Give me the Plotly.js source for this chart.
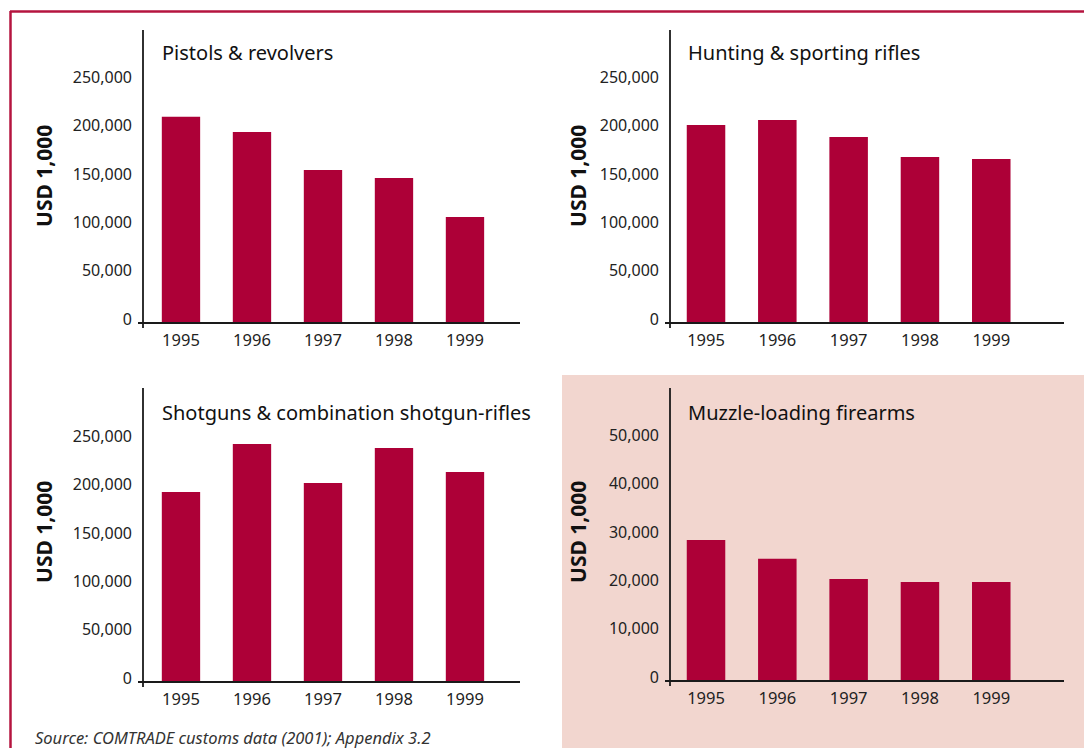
<!DOCTYPE html>
<html><head><meta charset="utf-8">
<script src="https://cdn.plot.ly/plotly-3.0.1.min.js"></script>
<style>html,body{margin:0;padding:0;background:#fff}#chart{width:1084px;height:748px}</style>
</head><body><div id="chart"></div><script>
const years = ['1995','1996','1997','1998','1999'];
const pistols = [213600,197700,158400,150100,109700];
const hunting = [205000,210100,192500,171800,169800];
const shotguns = [196700,246400,206000,242200,217400];
const muzzle = [29200,25300,21100,20500,20500];
const panelTitles = ['Pistols & revolvers','Hunting & sporting rifles','Shotguns & combination shotgun-rifles','Muzzle-loading firearms'];
const bigTicks = [0,50000,100000,150000,200000,250000];
const smallTicks = [0,10000,20000,30000,40000,50000];
const yTitle = 'USD 1,000';
const sourceText = 'Source: COMTRADE customs data (2001); Appendix 3.2';

const W = 1084, H = 748;
const px = x => x / W, py = y => 1 - y / H;
const FONT = 'Noto Sans, sans-serif';
const BAR = '#ad0037';
const INK = '#1a1a1a';

const panels = [
  {x0:143, x1:520, y0:30, y1:323, xr:[-0.535,4.775], yr:[0,303300], data:pistols, ticks:bigTicks, tx:160, ty:53, ytx:44, yty:176},
  {x0:670, x1:1064, y0:30, y1:323, xr:[-0.505,5.02], yr:[0,303300], data:hunting, ticks:bigTicks, tx:686, ty:53, ytx:578, yty:176},
  {x0:143, x1:520, y0:388, y1:682, xr:[-0.535,4.775], yr:[0,304300], data:shotguns, ticks:bigTicks, tx:160, ty:412, ytx:44, yty:532},
  {x0:670, x1:1064, y0:388, y1:681, xr:[-0.505,5.02], yr:[0,60660], data:muzzle, ticks:smallTicks, tx:686, ty:412, ytx:578, yty:532}
];

const traces = [], shapes = [], annotations = [];
const layout = {
  width: W, height: H,
  margin: {l:0, r:0, t:0, b:0},
  paper_bgcolor: '#ffffff',
  plot_bgcolor: 'rgba(0,0,0,0)',
  showlegend: false,
  bargap: 0.46,
  font: {family: FONT, color: INK}
};

shapes.push({type:'rect', xref:'paper', yref:'paper', x0:px(562), x1:1, y0:0, y1:py(375),
  fillcolor:'#f2d6cf', line:{width:0}, layer:'below'});
shapes.push({type:'line', xref:'paper', yref:'paper', x0:px(10), x1:1, y0:py(11.5), y1:py(11.5), line:{color:'#b5143f', width:2.5}});
shapes.push({type:'line', xref:'paper', yref:'paper', x0:px(10.5), x1:px(10.5), y0:py(11), y1:0, line:{color:'#b5143f', width:2.5}});

panels.forEach((p, i) => {
  const n = i === 0 ? '' : String(i + 1);
  const xa = 'x' + n, ya = 'y' + n;
  traces.push({type:'bar', x:years, y:p.data, xaxis:xa, yaxis:ya, marker:{color:BAR, line:{width:0}}, hoverinfo:'skip'});
  layout['xaxis' + n] = {
    domain:[px(p.x0), px(p.x1)], range:p.xr, type:'category', anchor:ya,
    showgrid:false, zeroline:false, showline:false, ticks:'',
    tickfont:{family:FONT, size:16.5, color:'#222'}, ticklabelstandoff:5, fixedrange:true
  };
  layout['yaxis' + n] = {
    domain:[py(p.y1), py(p.y0)], range:p.yr, anchor:xa,
    tickvals:p.ticks, tickformat:',d', showgrid:false, zeroline:false, showline:false, ticks:'',
    tickfont:{family:FONT, size:16, color:'#222'}, ticklabelstandoff:10, ticklabelshift:-4, fixedrange:true
  };
  shapes.push({type:'line', xref:'paper', yref:'paper', x0:px(p.x0), x1:px(p.x0), y0:py(p.y0), y1:py(p.y1 + 5), line:{color:INK, width:1.8}});
  shapes.push({type:'line', xref:'paper', yref:'paper', x0:px(p.x0 - 5), x1:px(p.x1), y0:py(p.y1), y1:py(p.y1), line:{color:INK, width:1.8}});
  annotations.push({xref:'paper', yref:'paper', x:px(p.tx), y:py(p.ty), xanchor:'left', yanchor:'middle',
    text:panelTitles[i], showarrow:false, font:{family:FONT, size:20, color:'#111'}});
  annotations.push({xref:'paper', yref:'paper', x:px(p.ytx), y:py(p.yty), xanchor:'center', yanchor:'middle',
    text:'<b>' + yTitle + '</b>', textangle:-90, showarrow:false, font:{family:FONT, size:21, color:'#111'}});
});

annotations.push({xref:'paper', yref:'paper', x:px(33), y:py(737), xanchor:'left', yanchor:'middle',
  text:'<i>' + sourceText + '</i>', showarrow:false, font:{family:FONT, size:16.5, color:'#333'}});

layout.shapes = shapes;
layout.annotations = annotations;
Plotly.newPlot('chart', traces, layout, {displayModeBar:false, staticPlot:true});
</script></body></html>
